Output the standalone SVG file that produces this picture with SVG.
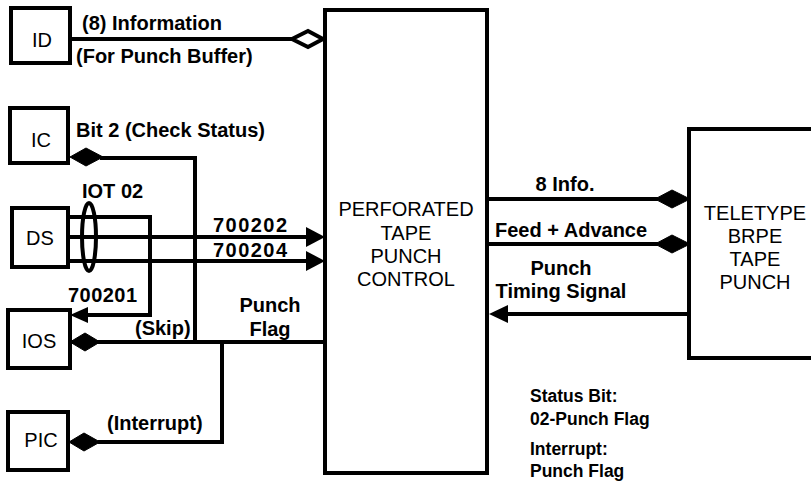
<svg xmlns="http://www.w3.org/2000/svg" width="811" height="482" viewBox="0 0 811 482">
<style>
.box{fill:#fff;stroke:#000;stroke-width:4}
.ln{fill:none;stroke:#000;stroke-width:4;stroke-linejoin:miter}
.dia{fill:#000;stroke:#000;stroke-width:1}
.hdia{fill:#fff;stroke:#000;stroke-width:4}
.arr{fill:#000}
.nt{font-family:"Liberation Sans",Arial,sans-serif;font-size:20px;fill:#000;text-anchor:middle}
.lb{font-family:"Liberation Sans",Arial,sans-serif;font-size:20px;font-weight:bold;fill:#000}
.sm{font-family:"Liberation Sans",Arial,sans-serif;font-size:17.5px;font-weight:bold;fill:#000}
</style>
<rect width="811" height="482" fill="#fff"/>
<g id="connectors">
  <line class="ln" x1="70" y1="39" x2="292" y2="39"/>
  <polygon class="hdia" points="292,39 308,31 323,39 308,47"/>
  <polyline class="ln" points="195,342 195,158 100,158"/>
  <polygon class="dia" points="70,157 86,148 103,157 86,166"/>
  <line class="ln" x1="68" y1="237" x2="308" y2="237"/>
  <polygon class="arr" points="306,227 325,237 306,247"/>
  <line class="ln" x1="68" y1="261" x2="308" y2="261"/>
  <polygon class="arr" points="306,251 325,261 306,271"/>
  <polyline class="ln" points="68,217 150,217 150,315 86,315"/>
  <polygon class="arr" points="70,315 88,307 88,323"/>
  <ellipse class="ln" cx="89" cy="237" rx="7" ry="34"/>
  <line class="ln" x1="325" y1="342" x2="98" y2="342"/>
  <polygon class="dia" points="70,342 85,333 100,342 85,351"/>
  <polyline class="ln" points="222,342 222,442 98,442"/>
  <polygon class="dia" points="69,442 84,433 100,442 84,451"/>
  <line class="ln" x1="487" y1="199" x2="658" y2="199"/>
  <polygon class="dia" points="655,199 672,190 690,199 672,208"/>
  <line class="ln" x1="487" y1="244" x2="658" y2="244"/>
  <polygon class="dia" points="655,244 672,235 690,244 672,253"/>
  <line class="ln" x1="505" y1="314" x2="690" y2="314"/>
  <polygon class="arr" points="489,314 508,305 508,323"/>
</g>
<g id="labels">
  <text class="lb" x="82" y="30">(8) Information</text>
  <text class="lb" x="76" y="63">(For Punch Buffer)</text>
  <text class="lb" x="76" y="137">Bit 2 (Check Status)</text>
  <text class="lb" x="82" y="198">IOT 02</text>
  <text class="lb" x="213" y="232" textLength="74" lengthAdjust="spacing">700202</text>
  <text class="lb" x="213" y="257" textLength="74" lengthAdjust="spacing">700204</text>
  <text class="lb" x="68" y="302" textLength="69" lengthAdjust="spacing">700201</text>
  <text class="lb" x="135" y="335">(Skip)</text>
  <text class="lb" x="270" y="312" text-anchor="middle">Punch</text>
  <text class="lb" x="270" y="336" text-anchor="middle">Flag</text>
  <text class="lb" x="107" y="430">(Interrupt)</text>
  <text class="lb" x="565" y="191" text-anchor="middle">8 Info.</text>
  <text class="lb" x="495" y="237">Feed + Advance</text>
  <text class="lb" x="561" y="275" text-anchor="middle">Punch</text>
  <text class="lb" x="561" y="298" text-anchor="middle">Timing Signal</text>
  <text class="sm" x="530" y="402">Status Bit:</text>
  <text class="sm" x="530" y="425">02-Punch Flag</text>
  <text class="sm" x="530" y="455">Interrupt:</text>
  <text class="sm" x="530" y="477">Punch Flag</text>
</g>
<g id="ID"><rect class="box" x="11" y="8" width="59" height="55"/><text class="nt" x="42" y="47">ID</text></g>
<g id="IC"><rect class="box" x="10" y="108" width="58" height="55"/><text class="nt" x="41" y="147">IC</text></g>
<g id="DS"><rect class="box" x="12" y="208" width="56" height="59"/><text class="nt" x="40" y="245">DS</text></g>
<g id="IOS"><rect class="box" x="8" y="310" width="62" height="58"/><text class="nt" x="39" y="348">IOS</text></g>
<g id="PIC"><rect class="box" x="8" y="412" width="60" height="58"/><text class="nt" x="41" y="447">PIC</text></g>
<g id="PTPC"><rect class="box" x="325" y="10" width="162" height="463"/>
  <text class="nt" x="406" y="216">PERFORATED</text>
  <text class="nt" x="406" y="240">TAPE</text>
  <text class="nt" x="406" y="263">PUNCH</text>
  <text class="nt" x="406" y="286">CONTROL</text>
</g>
<g id="TELETYPE"><path class="box" d="M815,129 H689 V358 H815"/>
  <text class="nt" x="755" y="220">TELETYPE</text>
  <text class="nt" x="755" y="243">BRPE</text>
  <text class="nt" x="755" y="266">TAPE</text>
  <text class="nt" x="755" y="289">PUNCH</text>
</g>
</svg>
